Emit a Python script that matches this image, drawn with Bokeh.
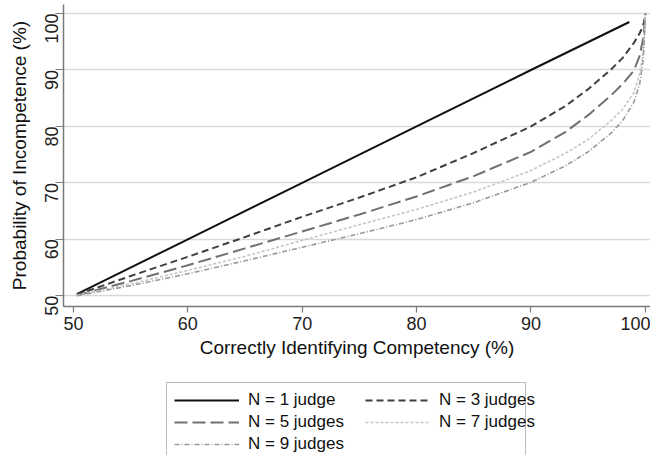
import math
from bokeh.plotting import figure
from bokeh.layouts import column
from bokeh.models import Legend, LegendItem, Range1d, FixedTicker
from bokeh.embed import file_html
from bokeh.resources import INLINE

# Data (percent)
x_n1 = [50.3, 60, 70, 80, 90, 98.6]
y_n1 = [50.3, 60, 70, 80, 90, 98.5]

x_curve = [50.3, 55, 60, 65, 70, 75, 80, 85, 90, 93, 95, 97, 98, 99, 99.5, 99.8, 99.9, 100]
y_n3 = [50.2, 53.5, 56.9, 60.4, 64.0, 67.4, 71.0, 75.3, 80.0, 83.6, 86.6, 90.1, 92.1, 94.8, 96.5, 97.8, 98.7, 100]
y_n5 = [50.1, 52.6, 55.4, 58.4, 61.4, 64.4, 67.6, 71.2, 75.5, 79.0, 82.0, 85.5, 87.5, 89.9, 92.5, 95.5, 97.3, 100]
y_n7 = [50.1, 52.1, 54.5, 57.0, 59.8, 62.6, 65.3, 68.4, 72.2, 75.2, 77.7, 81.0, 83.0, 86.0, 89.3, 93.2, 96.0, 100]
y_n9 = [50.0, 51.8, 53.9, 56.2, 58.6, 61.0, 63.5, 66.5, 70.1, 73.0, 75.5, 78.8, 81.0, 84.3, 87.5, 91.6, 95.0, 100]

labels = ["N = 1 judge", "N = 3 judges", "N = 5 judges", "N = 7 judges", "N = 9 judges"]
x_ticks = [50, 60, 70, 80, 90, 100]
y_ticks = [50, 60, 70, 80, 90, 100]

FONT = "Liberation Sans"
STYLES = [
    dict(line_color="#111111", line_width=2),
    dict(line_color="#404040", line_width=2, line_dash="7 4"),
    dict(line_color="#707070", line_width=2, line_dash="13 5"),
    dict(line_color="#c6c6c6", line_width=1.6, line_dash="3 2"),
    dict(line_color="#999999", line_width=1.6, line_dash="5 2 1 2"),
]
SERIES = [(x_n1, y_n1), (x_curve, y_n3), (x_curve, y_n5), (x_curve, y_n7), (x_curve, y_n9)]

# ---------------- main chart ----------------
p = figure(frame_width=587, frame_height=302, output_backend="svg", toolbar_location=None,
           x_range=Range1d(49.13, 100.45), y_range=Range1d(48.1, 101.6),
           min_border_left=63, min_border_right=0, min_border_top=4, min_border_bottom=66)
p.outline_line_color = None
p.background_fill_color = "white"

p.xgrid.grid_line_color = None
p.ygrid.grid_line_color = "#d9d9d9"
p.ygrid.grid_line_width = 1.5
p.ygrid.ticker = FixedTicker(ticks=y_ticks)

for ax in (p.xaxis[0], p.yaxis[0]):
    ax.axis_line_color = "#7a7a7a"
    ax.axis_line_width = 1.5
    ax.major_tick_line_color = "#7a7a7a"
    ax.major_tick_line_width = 1.2
    ax.major_tick_in = 0
    ax.minor_tick_line_color = None
    ax.major_label_text_font = FONT
    ax.major_label_text_font_size = "18px"
    ax.major_label_text_color = "#222222"
    ax.axis_label_text_font = FONT
    ax.axis_label_text_font_size = "19px"
    ax.axis_label_text_font_style = "normal"
    ax.axis_label_text_color = "#111111"

p.xaxis.ticker = FixedTicker(ticks=x_ticks)
p.yaxis.ticker = FixedTicker(ticks=y_ticks)
p.xaxis.major_tick_out = 6
p.yaxis.major_tick_out = 8
p.yaxis.major_label_orientation = math.pi / 2
p.xaxis.major_label_standoff = 4
p.yaxis.major_label_standoff = 4
p.xaxis.axis_label = "Correctly Identifying Competency (%)"
p.yaxis.axis_label = "Probability of Incompetence (%)"
p.xaxis.axis_label_standoff = 4
p.yaxis.axis_label_standoff = 6

for (xs, ys), st in zip(SERIES, STYLES):
    p.line(xs, ys, **st)

# ---------------- legend strip below the chart ----------------
# The same series are drawn out of view here; only their legend keys show.
lp = figure(width=650, height=83, output_backend="svg", toolbar_location=None,
            x_range=Range1d(0, 1), y_range=Range1d(0, 1),
            x_axis_location=None, y_axis_location=None, min_border=0)
lp.grid.visible = False
lp.outline_line_color = None
lr = [lp.line(xs, ys, **st) for (xs, ys), st in zip(SERIES, STYLES)]
blank = lp.line(x_n1, y_n1, line_alpha=0)  # empty third row of the right column


def make_legend(items, loc, label_width, bordered):
    lg = Legend(items=items, orientation="vertical", location=loc)
    lg.label_text_font = FONT
    lg.label_text_font_size = "17px"
    lg.label_text_color = "#111111"
    lg.glyph_width = 65
    lg.glyph_height = 18
    lg.label_height = 18
    lg.label_width = label_width
    lg.label_standoff = 9
    lg.spacing = 2
    lg.padding = 7
    lg.margin = 0
    if bordered:
        lg.border_line_color = "#777777"
        lg.border_line_width = 1.5
        lg.background_fill_color = "white"
    else:
        lg.border_line_color = None
        lg.background_fill_alpha = 0
    return lg


left_items = [LegendItem(label=labels[i], renderers=[lr[i]]) for i in (0, 2, 4)]
right_items = [LegendItem(label=labels[i], renderers=[lr[i]]) for i in (1, 3)]
right_items.append(LegendItem(label=" ", renderers=[blank]))

# frame of this strip is aligned with the chart frame (x = 0 at the y axis)
lp.add_layout(make_legend(left_items, (103, -7), 270, True), "center")
lp.add_layout(make_legend(right_items, (302, 3), 60, False), "center")

layout = column(p, lp, spacing=0)
open("out.html", "w").write(file_html(layout, INLINE))
